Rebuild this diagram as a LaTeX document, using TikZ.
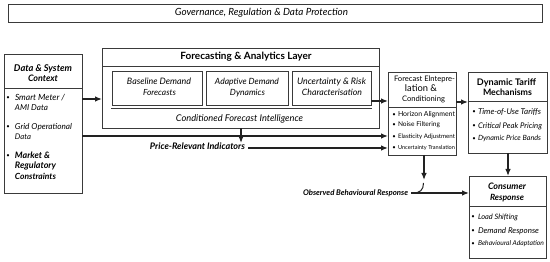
\documentclass[tikz,border=0pt]{standalone}
\usepackage{fontspec}
\setmainfont{Lato}
\usetikzlibrary{arrows.meta}
\definecolor{ln}{HTML}{222222}
\definecolor{bx}{HTML}{3A3A3A}
\newcommand{\fw}[2]{\resizebox{#1}{!}{\vphantom{Ag}#2}}
\begin{document}
\begin{tikzpicture}[x=1pt,y=-1pt,
  box/.style={draw=bx,line width=0.8pt,inner sep=0pt,outer sep=0pt,anchor=north west},
  sep/.style={draw=bx,line width=0.8pt},
  arr/.style={draw=ln,line width=1.25pt,-{Latex[length=7pt,width=5.5pt]}},
  plain/.style={draw=ln,line width=1.1pt},
  txt/.style={inner sep=0pt,outer sep=0pt,font=\fontsize{8}{10}\selectfont},
  itm/.style={txt,anchor=west},
  dot/.style={inner sep=0pt,font=\fontsize{6}{7}\selectfont}
]
\useasboundingbox (0,0) rectangle (550,262);
% governance
\node[box,minimum width=534pt,minimum height=18pt] (gov) at (8,4) {};
\node[txt] (govt) at (261.5,13) {\fw{173pt}{\itshape Governance, Regulation \& Data Protection}};
% data box
\node[box,minimum width=78pt,minimum height=139pt] (data) at (4,54) {};
\draw[sep] (data.west |- 0,88) -- (data.east |- 0,88);
\node[txt] (datat1) at (43,69) {\fw{58pt}{\bfseries\itshape Data \& System}};
\node[txt] (datat2) at (43,79) {\fw{30pt}{\bfseries\itshape Context}};
\node[dot] (d1) at (8,98) {\textbullet};
\node[itm] (d1a) at (15,98) {\fw{50pt}{\itshape Smart Meter /}};
\node[itm] (d1b) at (15,108) {\fw{33pt}{\itshape AMI Data}};
\node[dot] (d2) at (8,127) {\textbullet};
\node[itm] (d2a) at (15,127) {\fw{57pt}{\itshape Grid Operational}};
\node[itm] (d2b) at (15,137) {\fw{16pt}{\itshape Data}};
\node[dot] (d3) at (8,156) {\textbullet};
\node[itm] (d3a) at (15,156) {\fw{35pt}{\bfseries\itshape Market \&}};
\node[itm] (d3b) at (15,166) {\fw{41pt}{\bfseries\itshape Regulatory}};
\node[itm] (d3c) at (15,177) {\fw{41pt}{\bfseries\itshape Constraints}};
% forecasting layer
\node[box,minimum width=277pt,minimum height=80pt] (layer) at (102,48) {};
\draw[sep] (layer.west |- 0,66) -- (layer.east |- 0,66);
\node[txt] (layert) at (246,57) {\fw{131pt}{\bfseries Forecasting \& Analytics Layer}};
\node[box,minimum width=90pt,minimum height=34pt] (base) at (112,71) {};
\node[txt] (base1) at (159,82) {\fw{64pt}{\itshape Baseline Demand}};
\node[txt] (base2) at (159.5,93) {\fw{33pt}{\itshape Forecasts}};
\node[box,minimum width=82pt,minimum height=34pt] (adapt) at (206,71) {};
\node[txt] (adapt1) at (247,82) {\fw{64pt}{\itshape Adaptive Demand}};
\node[txt] (adapt2) at (247.5,93) {\fw{35pt}{\itshape Dynamics}};
\node[box,minimum width=79pt,minimum height=34pt] (unc) at (292,71) {};
\node[txt] (unc1) at (331.5,82) {\fw{69pt}{\itshape Uncertainty \& Risk}};
\node[txt] (unc2) at (332,93) {\fw{60pt}{\itshape Characterisation}};
\draw[draw=bx,line width=1pt] (111,109) -- (372,109);
\node[txt] (cfi) at (239.5,119) {\fw{127pt}{\itshape Conditioned Forecast Intelligence}};
% interpretation box
\node[box,minimum width=68pt,minimum height=83pt] (interp) at (388,72) {};
\draw[sep] (interp.west |- 0,107) -- (interp.east |- 0,107);
\node[txt] (it1) at (424.5,79) {\fw{61pt}{Forecast Elntepre-}};
\node[txt] (it2) at (421,89) {\fw{32pt}{lation \&}};
\node[txt] (it3) at (423.5,99) {\fw{43pt}{Conditioning}};
\node[dot] (i1) at (394,115) {\textbullet};
\node[itm] (i1t) at (398,115) {\fw{57pt}{Horizon Alignment}};
\node[dot] (i2) at (394,125) {\textbullet};
\node[itm] (i2t) at (398,125) {\fw{42pt}{Noise Filtering}};
\node[dot] (i3) at (394,137) {\textbullet};
\node[itm] (i3t) at (398,137) {\fw{57pt}{Elasticity Adjustment}};
\node[dot] (i4) at (394,148) {\textbullet};
\node[itm] (i4t) at (398,148) {\fw{57pt}{Uncertainty Translation}};
% tariff box
\node[box,minimum width=79pt,minimum height=81pt] (tariff) at (468,72) {};
\draw[sep] (tariff.west |- 0,101) -- (tariff.east |- 0,101);
\node[txt] (tt1) at (506.5,83) {\fw{59pt}{\bfseries Dynamic Tariff}};
\node[txt] (tt2) at (507.5,93) {\fw{49pt}{\bfseries Mechanisms}};
\node[dot] (t1) at (474,112) {\textbullet};
\node[itm] (t1t) at (478,112) {\fw{63pt}{\itshape Time-of-Use Tariffs}};
\node[dot] (t2) at (474,126) {\textbullet};
\node[itm] (t2t) at (478,126) {\fw{64pt}{\itshape Critical Peak Pricing}};
\node[dot] (t3) at (474,139) {\textbullet};
\node[itm] (t3t) at (478,139) {\fw{63pt}{\itshape Dynamic Price Bands}};
% consumer box
\node[box,minimum width=77pt,minimum height=82pt] (cons) at (469,176) {};
\draw[sep] (cons.west |- 0,206) -- (cons.east |- 0,206);
\node[txt] (ct1) at (507,187) {\fw{38pt}{\bfseries\itshape Consumer}};
\node[txt] (ct2) at (507,198) {\fw{34pt}{\bfseries\itshape Response}};
\node[dot] (c1) at (473,217) {\textbullet};
\node[itm] (c1t) at (478,217) {\fw{40pt}{\itshape Load Shifting}};
\node[dot] (c2) at (473,231) {\textbullet};
\node[itm] (c2t) at (478,231) {\fw{61pt}{\itshape Demand Response}};
\node[dot] (c3) at (473,244) {\textbullet};
\node[itm] (c3t) at (478,244) {\fw{66pt}{\itshape Behavioural Adaptation}};
% labels
\node[txt] (pri) at (197.5,147) {\fw{95pt}{\bfseries\itshape Price-Relevant Indicators}};
\node[txt] (obs) at (355.5,193) {\fw{105pt}{\bfseries\itshape Observed Behavioural Response}};
\coordinate (obsend) at (424,180);
% connectors
\draw[arr] (data.east |- 0,99) -- (layer.west |- 0,99);
\draw[arr] (unc.east |- 0,101) -- (interp.west |- 0,101);
\draw[arr] (interp.east |- 0,102) -- (tariff.west |- 0,102);
\draw[arr] (tariff.south -| 508,0) -- (cons.north -| 508,0);
\draw[arr] (data.east |- 0,136) -- (interp.west |- 0,136);
\draw[arr] (layer.south -| 241,0) -- (241,143);
\draw[arr] ([xshift=3pt]pri.east |- 0,148) -- (interp.west |- 0,148);
\draw[arr] (interp.south -| 424,0) -- (obsend);
\draw[arr] ([xshift=3pt]obs.east |- 0,193) -- (cons.west |- 0,193);
\draw[plain,line width=1pt] (423.5,183) .. controls (423.5,190) and (420,193) .. (413,193);
\end{tikzpicture}
\end{document}
